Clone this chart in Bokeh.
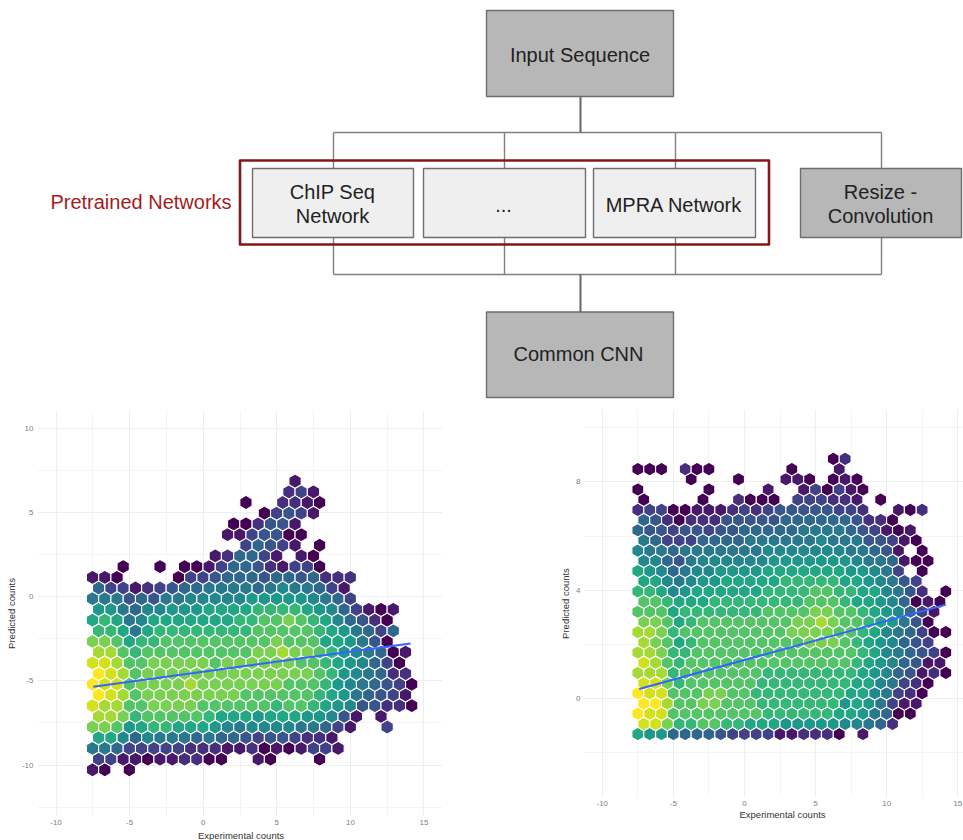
from bokeh.plotting import figure
from bokeh.layouts import column, row
from bokeh.models import ColumnDataSource, Range1d, FixedTicker, LinearColorMapper, Title
from bokeh.palettes import Viridis256
from bokeh.core.properties import value
from bokeh.embed import file_html
from bokeh.resources import INLINE

_ = None
FONT = "Liberation Sans"

# ---------- diagram ----------
box_labels = ["Input Sequence", "Common CNN", "ChIP Seq network", "ellipsis", "MPRA Network", "Resize"]
box_left = [486, 486, 252, 423, 593, 800]
box_right = [673, 673, 413, 585, 755, 961]
box_top = [10, 311.5, 168, 168, 168, 168]
box_bottom = [96, 397, 237, 237, 237, 237]
box_fill = ["#b7b7b7", "#b7b7b7", "#efefef", "#efefef", "#efefef", "#b7b7b7"]
text_x = [579.5, 578, 332, 332, 503, 673.5, 880, 880, 140.5]
text_y = [54, 353, 191, 215, 204, 204, 191, 215, 201]
text_s = ["Input Sequence", "Common CNN", "ChIP Seq", "Network", "...", "MPRA Network",
          "Resize -", "Convolution", "Pretrained Networks"]
text_c = ["#222222"] * 8 + ["#a61c1c"]
bus_x = [333, 881]
bus_top_y = 132
bus_bottom_y = 274
branch_x = [333, 504, 675, 881]
stem_x = 580

diagram = figure(width=963, height=405, x_range=Range1d(0, 963), y_range=Range1d(405, 0),
                 output_backend="svg", toolbar_location=None, min_border=0,
                 outline_line_color=None, x_axis_type=None, y_axis_type=None)
diagram.frame_align = False
diagram.xgrid.visible = False
diagram.ygrid.visible = False
lc = "#808080"
diagram.line(bus_x, [bus_top_y] * 2, line_color=lc, line_width=1.4)
diagram.line(bus_x, [bus_bottom_y] * 2, line_color=lc, line_width=1.4)
for bx in branch_x:
    diagram.line([bx, bx], [bus_top_y, 168], line_color=lc, line_width=1.4)
    diagram.line([bx, bx], [237, bus_bottom_y], line_color=lc, line_width=1.4)
diagram.line([stem_x, stem_x], [96, bus_top_y], line_color="#666666", line_width=2)
diagram.line([stem_x, stem_x], [bus_bottom_y, 311.5], line_color="#666666", line_width=2)
diagram.quad(left=239.5, right=768.5, top=160, bottom=244, fill_color=None,
             line_color="#85171a", line_width=2.6, line_join="round")
diagram.quad(left=box_left, right=box_right, top=box_top, bottom=box_bottom, fill_color=box_fill,
             line_color="#6e6e6e", line_width=1.4)
diagram.text(text_x, text_y, text=text_s, text_color=text_c, text_font=value(FONT),
             text_font_size="20px", text_align="center", text_baseline="middle")

# ---------- left hexbin: density level per hexagon, row by row from the bottom ----------
left_row_00 = [1, 0, _, 0]
left_row_01 = [3, 3, 1, 1, 0, 1, 1, 2, 2, 0, 0, _, _, 1, 0, _, _, _, 0]
left_row_02 = [6, 6, 5, 3, 3, 3, 3, 3, 2, 2, 2, 1, 1, 2, 0, 1, 0, 1, 3, 3, 1]
left_row_03 = [9, 9, 7, 5, 7, 6, 6, 6, 5, 6, 5, 5, 4, 3, 4, 4, 3, 2, 2, 1]
left_row_04 = [12, 12, 11, 8, 9, 10, 10, 9, 9, 9, 8, 7, 6, 7, 7, 7, 7, 6, 6, 5, 3, 1, _, _, 3]
left_row_05 = [13, 13, 12, 10, 11, 11, 11, 11, 11, 10, 9, 9, 9, 8, 9, 9, 9, 8, 8, 7, 4, 1, _, 1]
left_row_06 = [14, 13, 13, 11, 11, 12, 12, 12, 12, 11, 11, 11, 11, 11, 11, 10, 11, 11, 10, 9, 8, 7, 4, 4, 2, 2, 0]
left_row_07 = [15, 14, 13, 11, 12, 12, 12, 12, 12, 12, 12, 12, 11, 11, 11, 11, 11, 11, 10, 9, 8, 6, 5, 4, 3, 1]
left_row_08 = [15, 14, 14, 11, 12, 12, 12, 12, 13, 12, 12, 12, 12, 12, 12, 12, 11, 11, 11, 10, 8, 7, 6, 5, 4, 3, 0]
left_row_09 = [15, 14, 13, 11, 12, 12, 12, 12, 12, 12, 12, 12, 12, 12, 12, 12, 12, 12, 11, 10, 8, 7, 6, 5, 2, 2]
left_row_10 = [14, 14, 13, 11, 11, 12, 12, 12, 12, 12, 11, 12, 12, 12, 12, 12, 12, 11, 11, 10, 9, 8, 7, 5, 3, 0]
left_row_11 = [13, 13, 11, 10, 11, 11, 11, 11, 11, 11, 11, 11, 11, 12, 12, 13, 12, 12, 11, 10, 8, 7, 6, 5, 0, 1]
left_row_12 = [12, 12, 11, 9, 10, 10, 11, 11, 11, 11, 11, 11, 11, 11, 11, 12, 11, 11, 11, 9, 9, 8, 6, 4, 0]
left_row_13 = [10, 10, 9, 6, 9, 10, 10, 10, 10, 10, 10, 10, 10, 11, 11, 11, 11, 11, 10, 9, 8, 6, 5, 3, 5]
left_row_14 = [9, 10, 9, 6, 7, 9, 9, 9, 9, 9, 9, 9, 10, 10, 11, 11, 12, 11, 10, 9, 7, 5, 4, 2, 0]
left_row_15 = [8, 8, 6, 5, 7, 7, 8, 8, 8, 9, 9, 9, 9, 10, 10, 10, 10, 9, 8, 7, 5, 3, 1, 0, 1]
left_row_16 = [6, 6, 6, 4, 5, 4, 6, 6, 7, 7, 7, 7, 7, 8, 8, 8, 8, 8, 7, 6, 5, 3]
left_row_17 = [5, 3, 3, 1, 2, 3, 4, 5, 5, 6, 6, 6, 6, 5, 6, 7, 6, 6, 5, 3, 1]
left_row_18 = [1, 1, 0, _, _, _, _, 0, 3, 3, 4, 5, 5, 5, 4, 5, 5, 4, 5, 2, 2, 2]
left_row_19 = [_, _, 0, _, _, 0, _, 0, 0, 1, 3, 5, 5, 4, 2, 1, 3, 3, 0]
left_row_20 = [_] * 10 + [1, 2, 5, 5, 3, 1, _, 1, 0]
left_row_21 = [_] * 12 + [3, 5, 4, 3, 1, _, 0]
left_row_22 = [_] * 11 + [1, 1, 3, 4, 4, 0, 0]
left_row_23 = [_] * 11 + [0, 0, 2, 4, 4, 1]
left_row_24 = [_] * 14 + [0, 3, 4, 3, 1]
left_row_25 = [_] * 12 + [0, _, _, 2, 2, 1, 0]
left_row_26 = [_] * 16 + [2, 3, 1]
left_row_27 = [_] * 16 + [1]
left_rows = [left_row_00, left_row_01, left_row_02, left_row_03, left_row_04, left_row_05, left_row_06,
             left_row_07, left_row_08, left_row_09, left_row_10, left_row_11, left_row_12, left_row_13,
             left_row_14, left_row_15, left_row_16, left_row_17, left_row_18, left_row_19, left_row_20,
             left_row_21, left_row_22, left_row_23, left_row_24, left_row_25, left_row_26, left_row_27]

# ---------- right hexbin ----------
right_row_00 = [9, 8, 8, 5, 5, 5, 5, 4, 3, 3, 3, 3, 1, 1, 2, 2, 2, 0, _, 1]
right_row_01 = [14, 14, 12, 10, 10, 11, 11, 10, 10, 9, 9, 9, 8, 8, 8, 8, 8, 7, 7, 6, 5, 2]
right_row_02 = [15, 14, 14, 11, 11, 11, 11, 11, 11, 11, 11, 10, 10, 10, 10, 10, 10, 9, 9, 8, 6, 5, 0, 0]
right_row_03 = [15, 15, 13, 11, 11, 12, 12, 11, 11, 11, 10, 10, 10, 10, 10, 10, 10, 8, 9, 8, 6, 3, 1, 1]
right_row_04 = [15, 14, 14, 11, 11, 11, 12, 12, 11, 11, 10, 10, 10, 10, 10, 10, 10, 10, 9, 9, 7, 6, 3, 2, 0]
right_row_05 = [14, 14, 12, 10, 11, 11, 11, 11, 11, 11, 10, 10, 10, 10, 10, 10, 10, 10, 9, 9, 7, 6, 3, 2, 0]
right_row_06 = [13, 13, 13, 10, 11, 11, 11, 11, 11, 11, 11, 10, 10, 10, 10, 10, 10, 10, 10, 9, 8, 7, 5, 4, 1, 2, 0]
right_row_07 = [14, 13, 11, 10, 11, 11, 11, 11, 11, 11, 11, 11, 11, 11, 11, 11, 11, 11, 10, 9, 8, 7, 5, 4, 1, 1]
right_row_08 = [13, 13, 12, 10, 10, 11, 11, 11, 11, 11, 11, 11, 11, 11, 11, 11, 11, 11, 11, 10, 9, 7, 6, 5, 4, 3, 0]
right_row_09 = [13, 12, 11, 9, 10, 11, 11, 11, 11, 11, 11, 11, 11, 11, 12, 12, 12, 11, 10, 9, 8, 7, 5, 4, 3]
right_row_10 = [13, 13, 12, 10, 11, 11, 11, 11, 11, 11, 11, 11, 11, 12, 12, 12, 12, 11, 11, 10, 9, 7, 6, 5, 3, 0, 0]
right_row_11 = [12, 12, 11, 9, 10, 11, 11, 11, 11, 11, 11, 11, 11, 12, 12, 13, 12, 11, 11, 10, 9, 8, 6, 4, 0]
right_row_12 = [11, 11, 11, 9, 10, 10, 10, 10, 10, 10, 10, 11, 11, 11, 11, 12, 12, 11, 11, 10, 9, 8, 7, 5, 3, 1]
right_row_13 = [11, 11, 10, 9, 9, 9, 10, 10, 10, 10, 10, 10, 10, 10, 11, 11, 11, 10, 9, 9, 8, 7, 5, 0, 1, 0]
right_row_14 = [10, 10, 9, 7, 8, 9, 9, 9, 9, 9, 9, 10, 10, 10, 10, 11, 11, 10, 10, 9, 9, 7, 6, 4, 2, _, 0]
right_row_15 = [9, 9, 7, 6, 7, 8, 8, 9, 9, 9, 9, 9, 10, 10, 10, 10, 10, 9, 9, 8, 7, 6, 4, 3]
right_row_16 = [9, 8, 7, 5, 6, 7, 7, 8, 8, 8, 8, 9, 9, 9, 9, 9, 9, 9, 8, 8, 7, 6, 3, _, 0]
right_row_17 = [7, 7, 5, 4, 6, 7, 7, 7, 7, 7, 7, 8, 8, 8, 8, 8, 8, 8, 7, 6, 6, 5, 1, 0, 0]
right_row_18 = [7, 6, 6, 5, 6, 6, 6, 6, 6, 6, 6, 7, 7, 7, 7, 7, 7, 7, 6, 6, 5, 4, 1, _, 0]
right_row_19 = [6, 5, 3, 3, 3, 5, 5, 5, 5, 6, 6, 6, 6, 6, 6, 7, 6, 6, 6, 4, 4, 3, 1, 0]
right_row_20 = [5, 4, 4, 3, 4, 4, 3, 4, 4, 5, 5, 5, 5, 5, 6, 6, 6, 6, 5, 4, 3, 1, 0, 1]
right_row_21 = [5, 4, 2, 0, 2, 2, 2, 4, 4, 4, 4, 4, 5, 5, 5, 5, 5, 5, 4, 2, 2, 0]
right_row_22 = [2, 3, 3, 0, 0, 1, 1, 1, 2, 3, 2, 3, 4, 4, 4, 4, 4, 3, 3, 2, _, _, 1, 0, 2]
right_row_23 = [0, _, _, _, _, 0, _, _, 2, 0, 0, 0, _, 3, 3, 3, 2, 2, 1, _, 0]
right_row_24 = [0, _, _, _, _, _, 0, _, _, _, _, 1, _, _, 1, 3, 0, 3, 1, 0]
right_row_25 = [_, _, _, _, 0, _, _, _, 0, _, _, _, 1, 1, 0, _, 0, 1, 0]
right_row_26 = [0, 0, 0, _, 2, 0, 0, _, _, _, _, _, _, 0, _, _, _, 1]
right_row_27 = [_] * 16 + [0, 2]
right_rows = [right_row_00, right_row_01, right_row_02, right_row_03, right_row_04, right_row_05, right_row_06,
              right_row_07, right_row_08, right_row_09, right_row_10, right_row_11, right_row_12, right_row_13,
              right_row_14, right_row_15, right_row_16, right_row_17, right_row_18, right_row_19, right_row_20,
              right_row_21, right_row_22, right_row_23, right_row_24, right_row_25, right_row_26, right_row_27]

# smooth lines (experimental, predicted)
left_line_x = [-7.47, 14.09]
left_line_y = [-5.34, -2.77]
right_line_x = [-7.4, 14.16]
right_line_y = [0.36, 3.47]

x_labels_major = [-10, -5, 0, 5, 10, 15]
x_labels_minor = [-7.5, -2.5, 2.5, 7.5, 12.5]
left_y_major = [-10, -5, 0, 5, 10]
left_y_minor = [-12.5, -7.5, -2.5, 2.5, 7.5]
right_y_major = [0, 4, 8]
right_y_minor = [-2, 2, 6, 10]
x_title = "Experimental counts"
y_title = "Predicted counts"

mapper = LinearColorMapper(palette=Viridis256, low=0, high=15)


def hex_panel(rows, x0, dx, y0, dy, xr, yr, y_major, y_minor, line_x, line_y,
              width, height, border_left, border_right, border_top, border_bottom,
              title_offset, title_standoff):
    xs, ys, levels = [], [], []
    for k, levels_row in enumerate(rows):
        for j, lev in enumerate(levels_row):
            if lev is None:
                continue
            cx = x0 + (j + (0.5 if k % 2 else 0.0)) * dx
            cy = y0 + k * dy
            xs.append([cx, cx + dx / 2, cx + dx / 2, cx, cx - dx / 2, cx - dx / 2])
            ys.append([cy + dy * 2 / 3, cy + dy / 3, cy - dy / 3, cy - dy * 2 / 3, cy - dy / 3, cy + dy / 3])
            levels.append(lev)
    p = figure(width=width, height=height, x_range=Range1d(*xr), y_range=Range1d(*yr),
               output_backend="svg", toolbar_location=None, outline_line_color=None,
               min_border_left=border_left, min_border_right=border_right,
               min_border_top=border_top, min_border_bottom=border_bottom,
               y_axis_label=y_title)
    p.frame_align = False
    xt = FixedTicker(ticks=x_labels_major, minor_ticks=x_labels_minor)
    yt = FixedTicker(ticks=y_major, minor_ticks=y_minor)
    for ax, t in ((p.xaxis[0], xt), (p.yaxis[0], yt)):
        ax.ticker = t
        ax.axis_line_color = None
        ax.major_tick_line_color = None
        ax.minor_tick_line_color = None
        ax.major_tick_out = 0
        ax.major_tick_in = 0
        ax.minor_tick_out = 0
        ax.minor_tick_in = 0
        ax.major_label_text_font = FONT
        ax.major_label_text_font_size = "8px"
        ax.major_label_text_color = "#808080"
        ax.axis_label_text_font = FONT
        ax.axis_label_text_font_size = "9.5px"
        ax.axis_label_text_font_style = "normal"
        ax.axis_label_text_color = "#333333"
    p.xaxis[0].major_label_overrides = {t: str(t) for t in x_labels_major}
    p.yaxis[0].major_label_overrides = {t: str(t) for t in y_major}
    p.xaxis[0].major_label_standoff = 3
    p.yaxis[0].major_label_standoff = 4
    p.yaxis[0].axis_label_standoff = 2
    for g, t in ((p.xgrid[0], xt), (p.ygrid[0], yt)):
        g.ticker = t
        g.grid_line_color = "#eeeeee"
        g.grid_line_width = 1
        g.minor_grid_line_color = "#f4f4f4"
        g.minor_grid_line_width = 1
    src = ColumnDataSource(dict(xs=xs, ys=ys, level=levels))
    p.patches("xs", "ys", source=src,
              fill_color={"field": "level", "transform": mapper},
              line_color="#ffffff", line_width=1.1)
    p.line(line_x, line_y, line_color="#3366ff", line_width=2)
    p.add_layout(Title(text=x_title, align="left", offset=title_offset, standoff=title_standoff,
                       text_font=FONT, text_font_size="9.5px", text_font_style="normal",
                       text_color="#333333"), "below")
    return p


left = hex_panel(left_rows, -7.52, 0.834, -10.28, 0.6356, (-11.257, 16.257), (-13.06, 11.08),
                 left_y_major, left_y_minor, left_line_x, left_line_y,
                 480, 435, 37, 38, 5, 23, 160.5, 0)
right = hex_panel(right_rows, -7.50, 0.833, -1.304, 0.376, (-11.25, 15.4), (-3.645, 10.67),
                  right_y_major, right_y_minor, right_line_x, right_line_y,
                  483, 435, 104, 0, 4, 43, 155, -3)

page = column(diagram, row(left, right, spacing=0), spacing=0, margin=(0, 0, 0, 0))
open("out.html", "w").write(file_html(page, INLINE))
